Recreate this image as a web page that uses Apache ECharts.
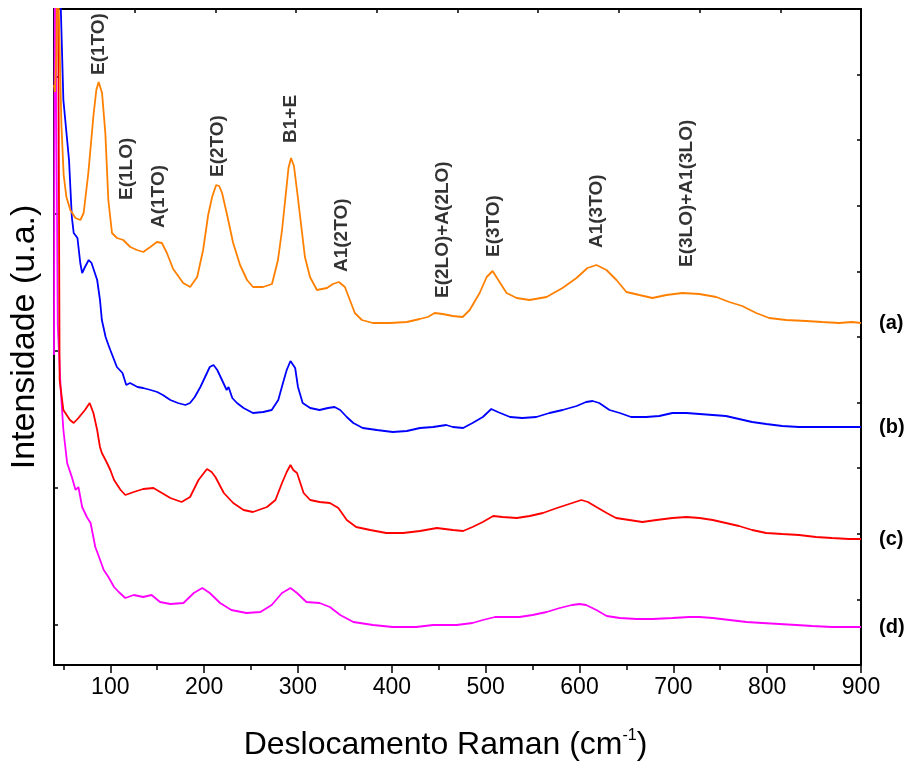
<!DOCTYPE html>
<html>
<head>
<meta charset="utf-8">
<script src="https://cdn.jsdelivr.net/npm/echarts@6/dist/echarts.min.js"></script>
<style>
html,body{margin:0;padding:0;background:#fff;}
#chart{width:914px;height:768px;}
</style>
</head>
<body>
<div id="chart"></div>
<script>
// ---- Data (Raman shift in cm-1, intensity in arbitrary units, curves already offset) ----
const seriesNames = ['(a)', '(b)', '(c)', '(d)'];

const aX = [40,41,42.5,43.5,45,46.3,47.9,50.3,53.2,57.4,62.8,68.1,71.6,76.6,81.9,85.1,87.6,91.2,94.7,97.9,101.8,107.1,113.8,121.3,128.4,135.1,142.6,149.7,155,160.3,167,177.7,185.1,192.6,198.9,204.3,208.5,212.8,216,219.1,224.5,230.9,238.3,245.7,252.1,262.8,272.3,278.7,283,286.7,289.9,292.6,295.7,298.9,302.1,307.4,312.8,320.2,330.9,337.2,343.6,350,355.3,360.6,368.1,379.8,397.9,416,429.8,438.3,445.7,454.3,464.9,475.5,483,493.6,501.1,507.4,512.8,522.3,533,546.8,564.9,581.9,596.8,608.5,618.1,628.7,639.4,650,663.8,677.7,692.6,709.6,727.7,745.7,759.6,773.4,788.3,802.1,820.2,841.5,858.5,876.6,890.4,900];
const aY = [540,533,570,680,680,565,500,450,428,415,407,405,412,452,508,535,543,532,492,425,392,387,385,378,375,373,378,383,382,372,356,342,338,348,375,410,428,440,439,432,410,382,360,345,338,338,341,365,395,428,457,467,459,435,410,368,348,335,337,341,343,338,325,312,305,302,302,303,306,308,312,311,309,308,315,332,348,354,346,332,327,325,328,337,347,357,360,355,345,333,330,327,330,332,331,328,323,319,312,307,305,304,303,302,303,302];

const bX = [40,46,47,50,56,59,61,65,66,68,70,73,77,80,86,89,91,95,98,100,107,113,117,121,129,135,143,150,156,164,172,180,185,190,196,201,206,210,214,219,224,226,230,235,242,252,263,272,279,284,288,292,297,300,305,313,323,332,339,345,352,359,369,384,401,416,430,444,458,465,476,486,497,506,513,526,539,554,568,582,597,607,614,621,632,643,655,671,685,699,714,728,742,756,770,784,799,816,834,852,869,887,900];
const bY = [720,700,625,525,465,408,392,387,388,362,352,358,365,362,345,325,305,288,280,275,258,252,240,242,238,237,235,233,230,225,222,220,222,228,238,248,258,260,255,245,235,238,227,222,217,212,213,215,225,242,255,264,257,238,222,217,215,217,218,215,208,202,197,195,193,194,197,198,200,198,197,202,208,216,213,208,207,208,212,215,219,223,224,222,215,212,208,208,209,212,212,211,210,209,206,203,201,199,198,198,198,198,198];

const cX = [40,44,45,46,50,57,61,66,68,73,78,82,86,89,91,96,100,104,111,116,125,135,146,155,164,176,185,194,203,208,212,221,231,242,252,267,276,283,288,292,295,299,306,313,323,334,343,352,362,377,394,412,430,448,465,476,486,497,508,518,533,547,561,576,589,602,609,618,629,639,653,667,682,699,714,728,742,756,770,784,799,816,834,852,869,887,900];
const cY = [720,720,500,245,215,205,202,207,205,215,222,212,195,178,172,163,155,145,135,130,133,136,137,132,127,123,128,145,156,153,148,132,122,115,113,118,125,142,153,160,155,152,132,125,123,122,117,105,98,95,92,92,94,97,95,94,98,103,109,108,107,109,112,117,121,125,123,118,112,107,105,103,105,107,108,107,105,102,99,95,92,91,90,88,87,86,86];

const dX = [40,41,43,44,47,50,54,59,63,66,70,75,79,84,88,93,98,104,109,116,125,135,144,153,164,178,189,198,206,217,229,245,260,272,283,292,299,309,323,334,345,359,380,401,426,444,469,486,497,510,522,536,550,565,579,592,600,607,618,629,643,661,678,699,717,728,742,760,778,795,813,831,848,869,887,900];
const dY = [270,720,720,300,238,195,162,148,135,138,118,108,102,78,68,55,48,38,33,27,30,28,30,23,21,22,32,37,32,22,15,12,13,20,32,37,32,23,22,18,10,3,0,-2,-2,0,0,2,5,8,8,8,10,13,17,20,21,20,15,9,7,6,6,7,8,8,7,5,3,2,1,0,-1,-2,-2,-2];

// Peak assignments (text, Raman shift, intensity anchor)
const peakLabels = ['E(1TO)','E(1LO)','A(1TO)','E(2TO)','B1+E','A1(2TO)','E(2LO)+A(2LO)','E(3TO)','A1(3TO)','E(3LO)+A1(3LO)'];
const peakX = [87.7,117.4,151.5,214.3,292.4,346.5,453.8,508.7,618.7,714.5];
const peakY = [550,425,397,448,482,353,327,368,377,358];

// Tick values
const xMajorTicks = [100,200,300,400,500,600,700,800,900];
const xMinorTicks = [50,150,250,350,450,550,650,750,850];
const xTopTicks = [40,126,212,298,384,470,556,642,728,814,900];
const yLeftTicks = [0,137,274,411,548];
const yRightTicks = [-40,25.6,91.2,156.8,222.4,288,353.6,419.2,484.8,550.4,616];

const colors = ['#ff8000', '#0000ff', '#ff0000', '#ff00ff'];
const xs = [aX, bX, cX, dX];
const ys = [aY, bY, cY, dY];

const chart = echarts.init(document.getElementById('chart'), null, {renderer: 'canvas'});

const axisLine = {show: true, onZero: false, lineStyle: {color: '#000', width: 2}};
const XMIN = 40, XMAX = 900, YMIN = -40, YMAX = 616;
const FONT = 'Liberation Sans, Arial, Helvetica, sans-serif';

const lineSeries = seriesNames.map((n, i) => ({
  name: n,
  type: 'line',
  xAxisIndex: 0,
  yAxisIndex: 0,
  data: xs[i].map((x, k) => [x, ys[i][k]]),
  showSymbol: false,
  symbol: 'none',
  clip: true,
  lineStyle: {color: colors[i], width: 1.8},
  itemStyle: {color: colors[i]},
  emphasis: {disabled: true},
  endLabel: {
    show: true,
    formatter: n,
    distance: 18,
    color: '#000',
    fontFamily: FONT,
    fontWeight: 'bold',
    fontSize: 20
  },
  z: 3 + (3 - i)
}));

const annotSeries = {
  type: 'scatter',
  xAxisIndex: 0,
  yAxisIndex: 0,
  symbolSize: 0,
  silent: true,
  data: peakLabels.map((t, i) => ({value: [peakX[i], peakY[i]], name: t})),
  label: {
    show: true,
    position: 'inside',
    formatter: p => p.name,
    rotate: 90,
    align: 'left',
    verticalAlign: 'middle',
    color: '#000',
    textBorderWidth: 0,
    fontFamily: FONT,
    fontWeight: 'bold',
    fontSize: 19
  },
  z: 10
};

chart.setOption({
  animation: false,
  backgroundColor: '#fff',
  grid: {left: 53, right: 53, top: 9, bottom: 103, containLabel: false},
  xAxis: [
    {
      type: 'value', position: 'bottom', min: XMIN, max: XMAX,
      axisLine: axisLine,
      axisTick: {show: true, inside: false, length: 8, customValues: xMajorTicks, lineStyle: {color: '#000', width: 1.5}},
      axisLabel: {show: true, customValues: xMajorTicks, margin: 11, color: '#000',
        fontFamily: 'Liberation Sans Narrow, Arial Narrow, Liberation Sans, sans-serif', fontSize: 23},
      splitLine: {show: false},
      name: 'Deslocamento Raman (cm{sup|-1})',
      nameLocation: 'middle',
      nameGap: 63,
      nameTextStyle: {
        color: '#000', fontFamily: FONT, fontSize: 32,
        verticalAlign: 'top',
        padding: [0, 24, 0, 0],
        rich: {sup: {fontSize: 16, color: '#000', fontFamily: FONT, padding: [0, 0, 18, 0]}}
      }
    },
    {
      type: 'value', position: 'bottom', min: XMIN, max: XMAX,
      axisLine: {show: false, onZero: false},
      axisTick: {show: true, inside: false, length: 5, customValues: xMinorTicks, lineStyle: {color: '#000', width: 1.5}},
      axisLabel: {show: false},
      splitLine: {show: false}
    },
    {
      type: 'value', position: 'top', min: XMIN, max: XMAX,
      axisLine: axisLine,
      axisTick: {show: true, inside: true, length: 4, customValues: xTopTicks, lineStyle: {color: '#000', width: 1.5}},
      axisLabel: {show: false},
      splitLine: {show: false}
    }
  ],
  yAxis: [
    {
      type: 'value', position: 'left', min: YMIN, max: YMAX,
      axisLine: axisLine,
      axisTick: {show: true, inside: true, length: 4, customValues: yLeftTicks, lineStyle: {color: '#000', width: 1.5}},
      axisLabel: {show: false},
      splitLine: {show: false},
      name: 'Intensidade (u.a.)',
      nameLocation: 'middle',
      nameGap: 12,
      nameRotate: 90,
      nameTextStyle: {color: '#000', fontFamily: FONT, fontSize: 34}
    },
    {
      type: 'value', position: 'right', min: YMIN, max: YMAX,
      axisLine: axisLine,
      axisTick: {show: true, inside: true, length: 4, customValues: yRightTicks, lineStyle: {color: '#000', width: 1.5}},
      axisLabel: {show: false},
      splitLine: {show: false}
    }
  ],
  series: lineSeries.concat([annotSeries])
});
</script>
</body>
</html>
